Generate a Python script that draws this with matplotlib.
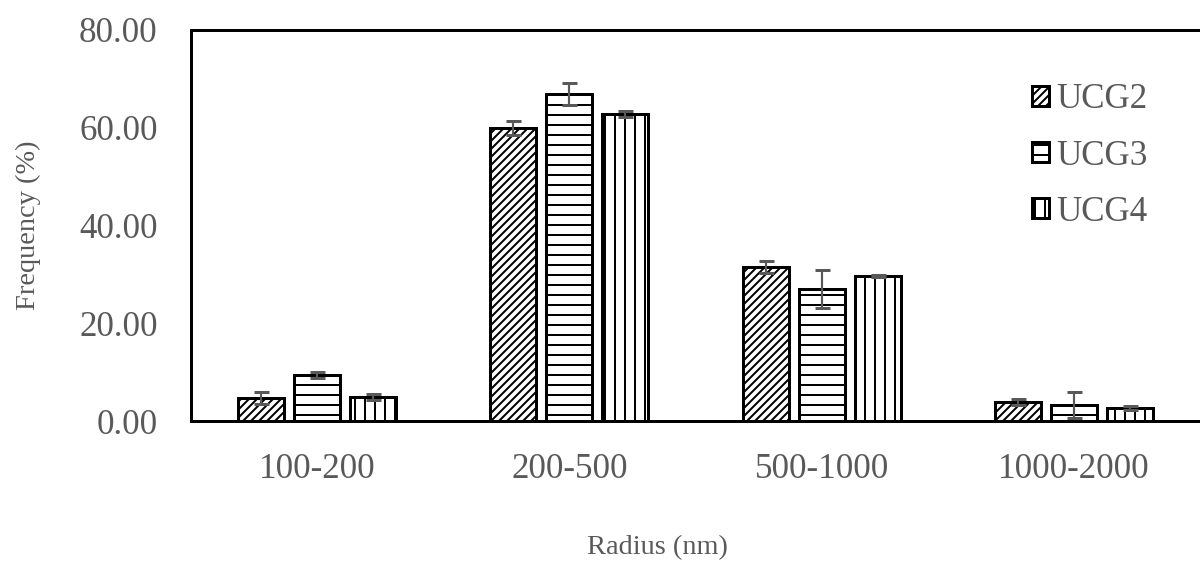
import matplotlib
matplotlib.use("Agg")
import matplotlib.pyplot as plt
import numpy as np

categories = ["100-200", "200-500", "500-1000", "1000-2000"]
series = ["UCG2", "UCG3", "UCG4"]
ucg2 = [4.7, 59.9, 31.5, 3.9]
ucg3 = [9.4, 66.9, 27.0, 3.3]
ucg4 = [4.9, 62.8, 29.7, 2.7]
ucg2_err = [1.3, 1.4, 1.2, 0.6]
ucg3_err = [0.6, 2.2, 3.9, 2.6]
ucg4_err = [0.6, 0.6, 0.2, 0.4]
yticks = [0, 20, 40, 60, 80]

values = [ucg2, ucg3, ucg4]
errors = [ucg2_err, ucg3_err, ucg4_err]
hatches = ["/////", "--", "||"]

plt.rcParams["font.family"] = ["Liberation Serif", "DejaVu Serif"]
plt.rcParams["hatch.linewidth"] = 1.2
text_color = "#595959"
fs = 21
fs_title = 17

dpi = 120
fig = plt.figure(figsize=(1200 / dpi, 568 / dpi), dpi=dpi)
W, H = 1200, 568
ax = fig.add_axes([191 / W, 1 - 421 / H, 1009 / W, 391 / H])

x = np.arange(len(categories))
width = 0.183
step = 0.222
for i, (vals, errs, h, name) in enumerate(zip(values, errors, hatches, series)):
    pos = x + (i - 1) * step
    ax.bar(pos, vals, width=width, facecolor="white", edgecolor="black",
           linewidth=1.8, hatch=h, label=name, zorder=2)
    ax.errorbar(pos, vals, yerr=errs, fmt="none", ecolor=text_color,
                elinewidth=1.3, capsize=4.5, capthick=1.8, zorder=3)

ax.set_xlim(-0.5, 3.5)
ax.set_ylim(0, 80)
ax.set_yticks(yticks)
ax.set_yticklabels([f"{v:.2f}" for v in yticks])
ax.set_xticks(x)
ax.set_xticklabels(categories)
ax.tick_params(axis="both", length=0, labelsize=fs, colors=text_color)
ax.tick_params(axis="y", pad=20)
ax.tick_params(axis="x", pad=19)

for s in ["left", "top", "bottom"]:
    ax.spines[s].set_linewidth(1.8)
    ax.spines[s].set_color("black")
ax.spines["right"].set_visible(False)

fig.text(28 / W, 1 - 225 / H, "Frequency (%)", ha="center", va="center",
         rotation=90, fontsize=fs_title, color=text_color)
fig.text(657 / W, 1 - 548 / H, "Radius (nm)", ha="center", va="center",
         fontsize=fs_title, color=text_color)

leg = ax.legend(loc="upper left", bbox_to_anchor=((1007 - 191) / 1009, (421 - 59) / 391),
                frameon=False, fontsize=fs, handlelength=0.5, handleheight=0.5,
                handletextpad=0.2, labelspacing=0.66, labelcolor=text_color,
                borderpad=0.2)

fig.savefig("out.png", dpi=dpi, facecolor="white")
